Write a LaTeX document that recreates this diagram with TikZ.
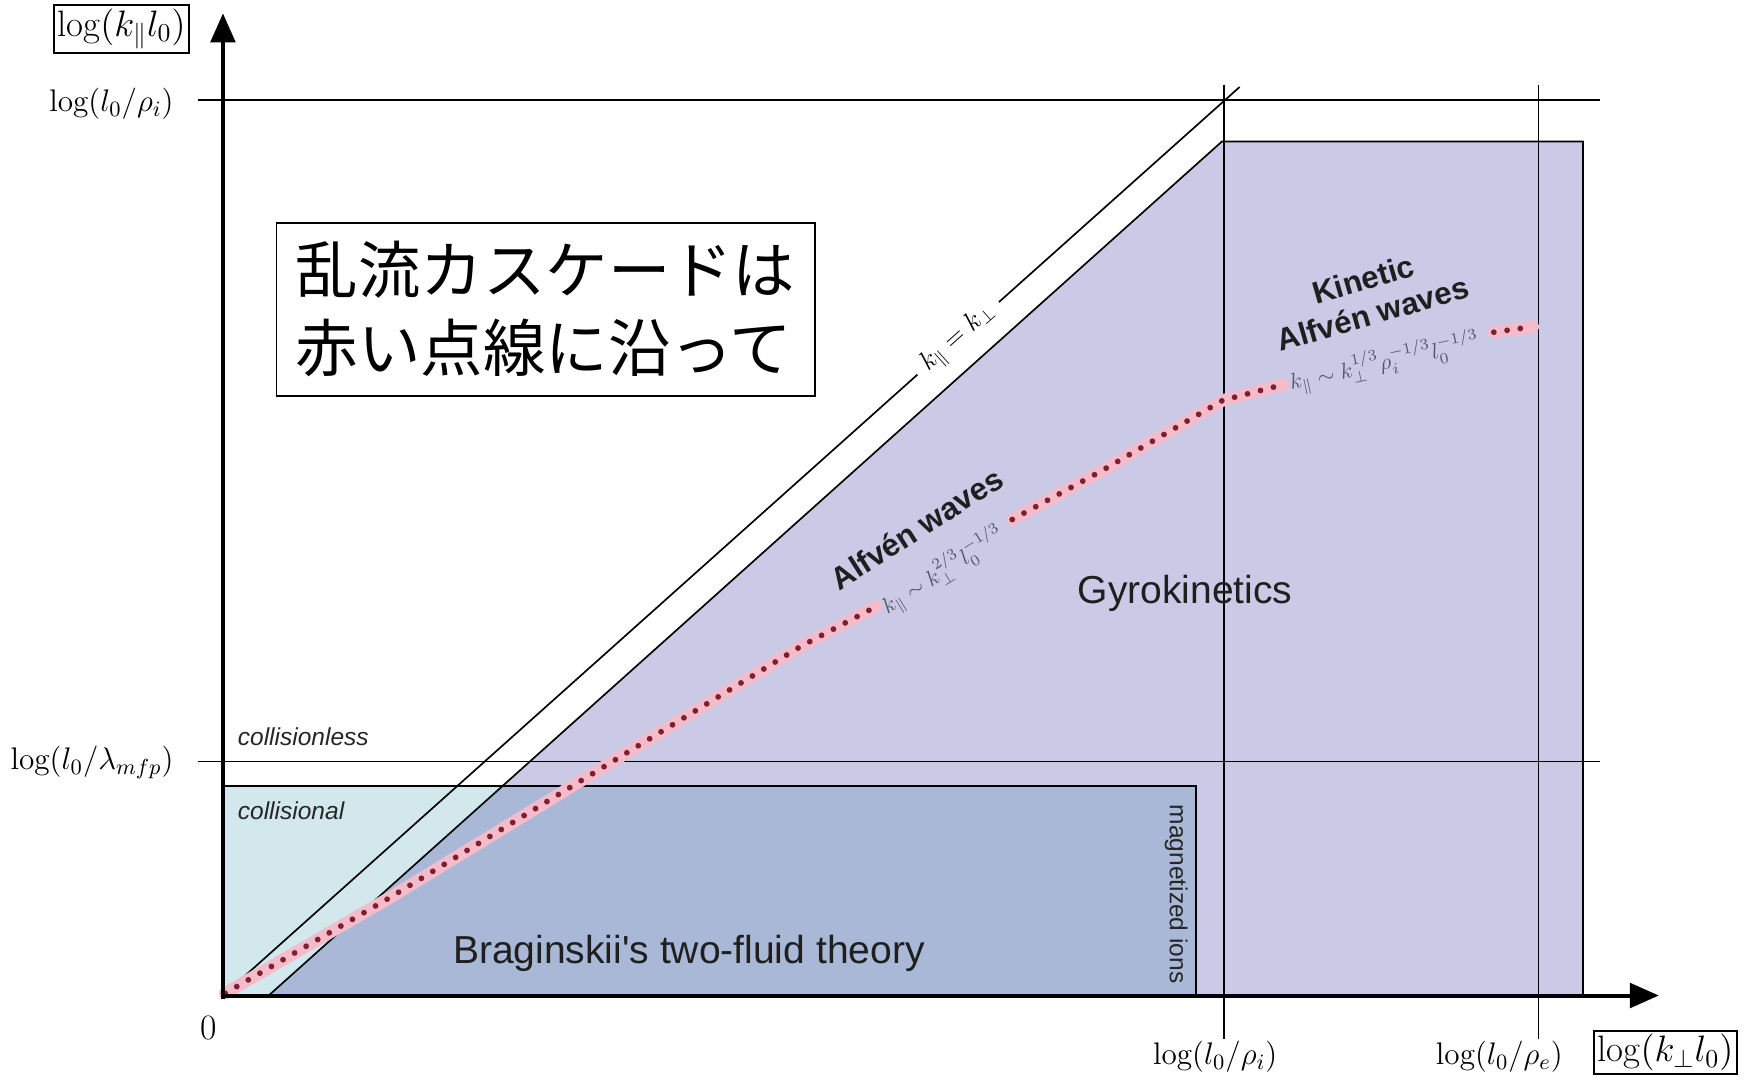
\RequirePackage{fix-cm}
\documentclass[tikz,border=0pt]{standalone}
\usepackage{fontspec}
\newfontfamily\sansf{Liberation Sans}
\newfontfamily\cjkf{Noto Sans CJK JP}
\usetikzlibrary{arrows.meta}
\definecolor{gyro}{HTML}{CACAE6}
\definecolor{colli}{HTML}{D2E8EC}
\definecolor{brag}{HTML}{A9B8D6}
\definecolor{dotred}{HTML}{7E1F30}
\definecolor{pinkhalo}{HTML}{F4BCCB}
\definecolor{formgray}{HTML}{55556A}
\begin{document}
\begin{tikzpicture}[x=0.5pt,y=-0.5pt,
  thinline/.style={line width=0.75pt},
  axisline/.style={line width=1.8pt,-{Triangle[length=13pt,width=11pt]}},
  axlabel/.style={font=\fontsize{14}{16}\selectfont, inner sep=0pt},
  boxlabel/.style={draw, line width=0.8pt, font=\fontsize{16.5}{18}\selectfont, inner sep=1.5pt},
  smalltext/.style={font=\sansf\fontsize{11}{13}\selectfont, text=black!85},
  bigtext/.style={font=\sansf\fontsize{17.5}{20}\selectfont, text=black!88},
  wavetext/.style={font=\sansf\bfseries\fontsize{14}{16}\selectfont, text=black!88, align=center, inner sep=0pt},
  formtext/.style={font=\fontsize{10}{12}\selectfont, text=formgray, inner sep=0pt},
  halo/.style={pinkhalo, line width=5.5pt, line cap=round, line join=round},
  dots/.style={dotred, line width=2.6pt, line cap=round, dash pattern=on 0pt off 6pt}
]
\useasboundingbox (0,0) rectangle (1568,969);

% named corner points
\coordinate (O) at (200,893);
\coordinate (G1) at (241,893);
\coordinate (G2) at (1096,127);
\coordinate (G3) at (1420,127);
\coordinate (G4) at (1420,893);
\coordinate (C1) at (200,705);
\coordinate (C2) at (1073,705);
\coordinate (C3) at (1073,893);

% regions
\fill[colli] (C1) rectangle (C3);
\fill[gyro] (G1) -- (G2) -- (G3) -- (G4) -- cycle;
\begin{scope}
  \clip (C1) rectangle (C3);
  \fill[brag] (G1) -- (G2) -- (G3) -- (G4) -- cycle;
\end{scope}
\draw[thinline] (G1) -- (G2) -- (G3) -- (G4);
\draw[thinline] (C1) -- (C2) -- (C3);

% reference lines
\draw[thinline] (178,90) -- (1435,90);
\draw[thinline] (178,683) -- (1435,683);
\draw[thinline] (1098,76) -- (1098,932);
\draw[thinline] (1380,76) -- (1380,932);

% diagonal k_par = k_perp with gap for the label
\coordinate (D1) at (823,336);
\coordinate (D2) at (896,271);
\coordinate (D3) at (1112,78);
\draw[thinline] (O) -- (D1);
\draw[thinline] (D2) -- (D3);
\node[rotate=41.8, font=\fontsize{12}{14}\selectfont, inner sep=0pt] (kk) at (859.5,303.5) {$k_\parallel = k_\perp$};

% red dotted cascade
\draw[halo] (202,891) -- (350,805) -- (718,580) -- (786,544);
\draw[dots] (202,891) -- (350,805) -- (718,580) -- (786,544);
\draw[halo] (908,466) -- (987,423) -- (1097,359) -- (1151,345);
\draw[dots] (908,466) -- (987,423) -- (1097,359) -- (1151,345);
\draw[halo] (1340,298) -- (1375,293);
\draw[dots] (1340,298) -- (1375,293);

% axes
\draw[axisline] (200,896) -- (200,12);
\draw[axisline] (199,893) -- (1488,893);

% axis labels
\node[boxlabel] (ylab) at (109,26) {$\log(k_\parallel l_0)$};
\node[axlabel, anchor=east] (lrhoi) at (156,93) {$\log(l_0/\rho_i)$};
\node[axlabel, anchor=east] (lmfp) at (156,684) {$\log(l_0/\lambda_{mfp})$};
\node[font=\fontsize{16}{18}\selectfont, inner sep=0pt] (zero) at (187,922) {0};
\node[axlabel] (xrhoi) at (1090,948) {$\log(l_0/\rho_i)$};
\node[axlabel] (xrhoe) at (1345,948) {$\log(l_0/\rho_e)$};
\node[boxlabel] (xlab) at (1494,944) {$\log(k_\perp l_0)$};

% Japanese note
\node[draw, thinline, fill=white, minimum width=241.5pt, minimum height=77.5pt,
      align=left, font=\cjkf\fontsize{28}{35}\selectfont, inner sep=0pt] (note) at (489.5,277.5)
      {乱流カスケードは\\赤い点線に沿って};

% region labels
\node[bigtext] (gyrolab) at (1063,532) {Gyrokinetics};
\node[bigtext] (braglab) at (618,855) {Braginskii's two-fluid theory};
\node[smalltext, font=\sansf\itshape\fontsize{11}{13}\selectfont, anchor=west, inner sep=0pt] (cless) at (213,661) {collisionless};
\node[smalltext, font=\sansf\itshape\fontsize{11}{13}\selectfont, anchor=west, inner sep=0pt] (cal) at (213,727) {collisional};
\node[smalltext, rotate=-90, inner sep=0pt] (mag) at (1055,802) {magnetized ions};

% wave labels
\node[wavetext, rotate=32.5] (aw) at (822,474) {Alfvén waves};
\node[formtext, rotate=32] (awf) at (846,512) {$k_\parallel\sim k_\perp^{2/3}l_0^{-1/3}$};
\node[wavetext, rotate=16] (kaw) at (1227,266) {Kinetic\\Alfvén waves};
\node[formtext, rotate=12] (kawf) at (1242,325) {$k_\parallel\sim k_\perp^{1/3}\rho_i^{-1/3}l_0^{-1/3}$};
\end{tikzpicture}
\end{document}
